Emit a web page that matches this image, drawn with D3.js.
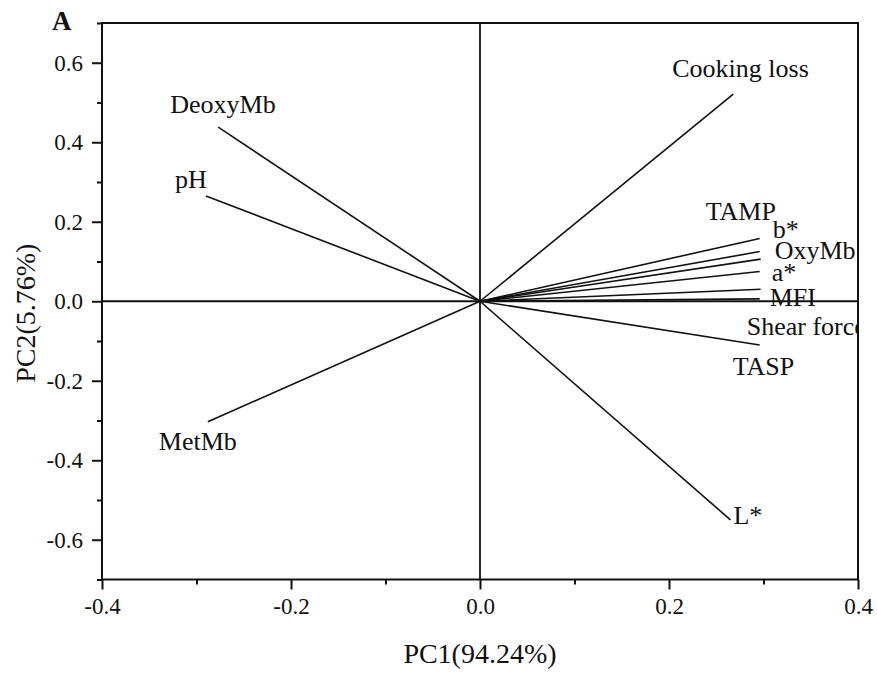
<html>
<head>
<meta charset="utf-8">
<title>PCA loading plot</title>
<style>
  body { margin: 0; background: #fff; }
  svg text { font-family: "Liberation Serif", "Times New Roman", serif; fill: #111; }
</style>
<script src="https://cdnjs.cloudflare.com/ajax/libs/d3/7.8.5/d3.min.js"></script>
</head>
<body>
<svg id="chart" width="877" height="675"></svg>
<script>
// variable names and their loadings on PC1 / PC2
var variables = ["Cooking loss", "DeoxyMb", "pH", "MetMb", "TAMP", "b*", "OxyMb", "a*", "MFI", "Shear force", "TASP", "L*"];
var pc1 = [0.268, -0.277, -0.290, -0.288, 0.296, 0.296, 0.297, 0.296, 0.297, 0.296, 0.296, 0.265];
var pc2 = [0.521, 0.438, 0.265, -0.303, 0.158, 0.125, 0.106, 0.075, 0.030, 0.006, -0.110, -0.550];

var xTicks = [-0.4, -0.2, 0.0, 0.2, 0.4];
var yTicks = [-0.6, -0.4, -0.2, 0.0, 0.2, 0.4, 0.6];

// label offsets from the end of each arrow, px (dragged by hand in the original)
var labelDx = [-61, -48, -31, -49, -54, 13, 14, 12, 9, -13, -27, 3];
var labelDy = [-17, -14, -8, 28, -18, -14, 0, 10, 17, 36, 30, 4];

var svg = d3.select("#chart"),
    margin = {top: 23, right: 19, bottom: 95.5, left: 102},
    width = +svg.attr("width") - margin.left - margin.right,
    height = +svg.attr("height") - margin.top - margin.bottom;

var x = d3.scaleLinear().domain([-0.4, 0.4]).range([margin.left, margin.left + width]);
var y = d3.scaleLinear().domain([-0.7, 0.7]).range([margin.top + height, margin.top]);

// plain hyphen for negatives, like the original
var fmt = function(d) { return d3.format(".1f")(d).replace("\u2212", "-"); };

svg.append("clipPath").attr("id", "plotclip")
  .append("rect")
  .attr("x", margin.left).attr("y", margin.top)
  .attr("width", width).attr("height", height);

// zero lines
svg.append("line")
  .attr("x1", x(0)).attr("x2", x(0))
  .attr("y1", y(0.7)).attr("y2", y(-0.7))
  .attr("stroke", "#111").attr("stroke-width", 1.8);
svg.append("line")
  .attr("x1", x(-0.4)).attr("x2", x(0.4))
  .attr("y1", y(0)).attr("y2", y(0))
  .attr("stroke", "#111").attr("stroke-width", 1.8);

// loading vectors
var idx = d3.range(variables.length);
svg.append("g").selectAll("line")
  .data(idx)
  .enter().append("line")
  .attr("x1", x(0)).attr("y1", y(0))
  .attr("x2", function(i) { return x(pc1[i]); })
  .attr("y2", function(i) { return y(pc2[i]); })
  .attr("stroke", "#111")
  .attr("stroke-width", 1.6);

svg.append("g").attr("clip-path", "url(#plotclip)")
  .selectAll("text")
  .data(idx)
  .enter().append("text")
  .attr("x", function(i) { return x(pc1[i]) + labelDx[i]; })
  .attr("y", function(i) { return y(pc2[i]) + labelDy[i]; })
  .style("font-size", "26px")
  .text(function(i) { return variables[i]; });

// axes
svg.append("g")
  .attr("transform", "translate(0," + (margin.top + height) + ")")
  .call(d3.axisBottom(x).tickValues(xTicks).tickFormat(fmt).tickSize(10).tickPadding(8));
svg.append("g")
  .attr("transform", "translate(" + margin.left + ",0)")
  .call(d3.axisLeft(y).tickValues(yTicks).tickFormat(fmt).tickSize(10).tickPadding(9));

// minor ticks
svg.append("g")
  .attr("transform", "translate(0," + (margin.top + height) + ")")
  .call(d3.axisBottom(x).tickValues([-0.3, -0.1, 0.1, 0.3]).tickFormat("").tickSize(5));
svg.append("g")
  .attr("transform", "translate(" + margin.left + ",0)")
  .call(d3.axisLeft(y).tickValues([-0.7, -0.5, -0.3, -0.1, 0.1, 0.3, 0.5, 0.7]).tickFormat("").tickSize(5));

svg.selectAll(".domain").remove();
svg.selectAll(".tick line").attr("stroke", "#111").attr("stroke-width", 2);
svg.selectAll(".tick text")
  .style("font-family", "'Liberation Serif', 'Times New Roman', serif")
  .style("font-size", "23px")
  .attr("fill", "#111");

// frame
svg.append("rect")
  .attr("x", margin.left).attr("y", margin.top)
  .attr("width", width).attr("height", height)
  .attr("fill", "none").attr("stroke", "#111").attr("stroke-width", 2);

// titles
svg.append("text")
  .attr("x", x(0)).attr("y", 663)
  .attr("text-anchor", "middle")
  .style("font-size", "28px")
  .text("PC1(94.24%)");

svg.append("text")
  .attr("transform", "translate(35," + y(-0.03) + ") rotate(-90)")
  .attr("text-anchor", "middle")
  .style("font-size", "28px")
  .text("PC2(5.76%)");

svg.append("text")
  .attr("x", 52).attr("y", 30)
  .style("font-size", "27px")
  .style("font-weight", "bold")
  .text("A");
</script>
</body>
</html>
